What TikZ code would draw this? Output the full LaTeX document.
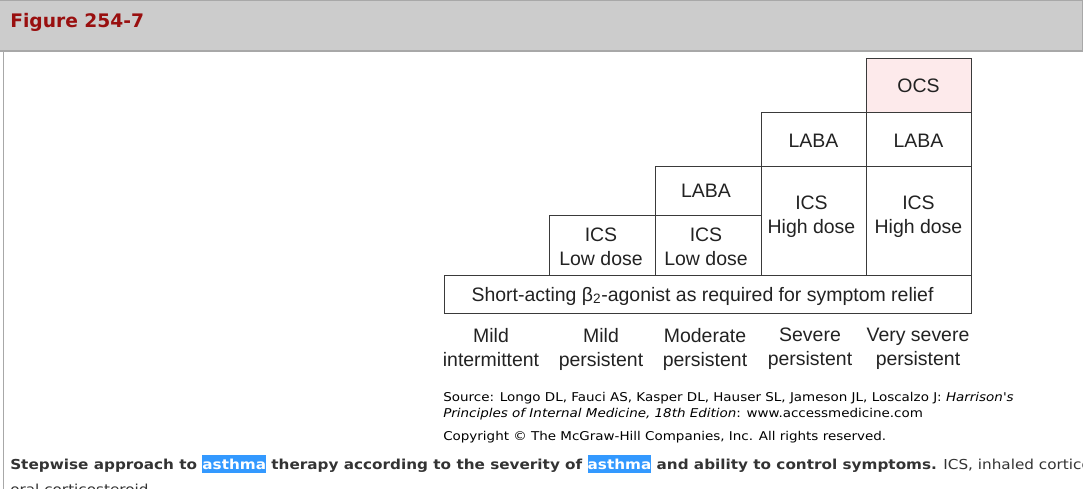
\documentclass[tikz,border=0pt]{standalone}
\usepackage{fontspec}
\setmainfont{Liberation Sans}
\newfontfamily\webfont{DejaVu Sans}
\newfontfamily\webwide[FakeStretch=1.11]{DejaVu Sans}
\definecolor{hdrgray}{HTML}{CCCCCC}
\definecolor{hdrline}{HTML}{A8A8A8}
\definecolor{figred}{HTML}{990F0F}
\definecolor{ocspink}{HTML}{FDEAEB}
\definecolor{hlblue}{HTML}{3399FF}
\definecolor{boxline}{HTML}{3A3A3A}
\definecolor{boxtext}{HTML}{222222}
\definecolor{captext}{HTML}{333333}
\newcommand{\hlword}[1]{{\setlength{\fboxsep}{0pt}\colorbox{hlblue}{\textcolor{white}{\rule[-3pt]{0pt}{13.5pt}#1}}}}
\begin{document}
\begin{tikzpicture}[x=0.75pt,y=-0.75pt,
  cell/.style={draw=boxline,line width=0.75pt},
  celltext/.style={font=\fontsize{14.6}{18}\selectfont,text=boxtext,align=center,inner sep=0pt},
  webtext/.style={font=\webwide\fontsize{9.1}{12}\selectfont,text=black,anchor=base west,inner sep=0pt},
  captext/.style={font=\webwide\fontsize{10.3}{16.5}\selectfont,text=captext,anchor=base west,inner sep=0pt}]
  \useasboundingbox (0,0) rectangle (1083,489);
  \clip (0,0) rectangle (1083,489);
  \fill[hdrgray] (0,0) rectangle (1083,51);
  \draw[hdrline] (0,0.5)--(1083,0.5);
  \draw[hdrline,line width=1pt] (0,51)--(1083,51);
  \draw[hdrline] (1082.5,0)--(1082.5,51);
  \draw[hdrline] (3.5,51)--(3.5,489);
  \node[anchor=base west,inner sep=0pt,font=\webfont\bfseries\fontsize{14}{16}\selectfont,text=figred] (figtitle) at (10,27) {Figure 254-7};
  \draw[cell] (444,275) rectangle (971,313);
  \draw[cell] (549,215) rectangle (655,275);
  \draw[cell] (655,215) rectangle (761,275);
  \draw[cell] (655,166) rectangle (761,215);
  \draw[cell] (761,166) rectangle (866,275);
  \draw[cell] (761,112) rectangle (866,166);
  \draw[cell] (866,166) rectangle (971,275);
  \draw[cell] (866,112) rectangle (971,166);
  \draw[cell,fill=ocspink] (866,58) rectangle (971,112);
  \node[celltext] (ocs) at (918.5,86) {OCS};
  \node[celltext] (labavs) at (918.5,140.5) {LABA};
  \node[celltext] (labas) at (813.5,140.5) {LABA};
  \node[celltext] (labamod) at (706,190.5) {LABA};
  \node[celltext] (icsvs) at (918.5,217) {ICS\\High dose};
  \node[celltext] (icss) at (811.5,217) {ICS\\High dose};
  \node[celltext] (icsmod) at (706,247) {ICS\\Low dose};
  \node[celltext] (icsmild) at (601,247) {ICS\\Low dose};
  \node[celltext] (saba) at (702.5,296) {Short-acting β\textsubscript{2}-agonist as required for symptom relief};
  \node[celltext,anchor=north] (sev1) at (491,328) {Mild\\intermittent};
  \node[celltext,anchor=north] (sev2) at (601,328) {Mild\\persistent};
  \node[celltext,anchor=north] (sev3) at (705,328) {Moderate\\persistent};
  \node[celltext,anchor=north] (sev4) at (810,328) {Severe\\persistent};
  \node[celltext,anchor=north] (sev5) at (918,328) {Very severe\\persistent};
  \node[webtext] (src1) at (443,401) {Source: Longo DL, Fauci AS, Kasper DL, Hauser SL, Jameson JL, Loscalzo J: \textit{Harrison's}};
  \node[webtext] (src2) at (443,417) {\textit{Principles of Internal Medicine, 18th Edition}: www.accessmedicine.com};
  \node[webtext] (copy) at (443,440) {Copyright © The McGraw-Hill Companies, Inc. All rights reserved.};
  \node[captext] (caption) at (10,469) {\textbf{Stepwise approach to \hlword{asthma} therapy according to the severity of \hlword{asthma} and ability to control symptoms.} ICS, inhaled corticosteroid;};
  \node[captext] (caption2) at (10,494) {oral corticosteroid};
\end{tikzpicture}
\end{document}
